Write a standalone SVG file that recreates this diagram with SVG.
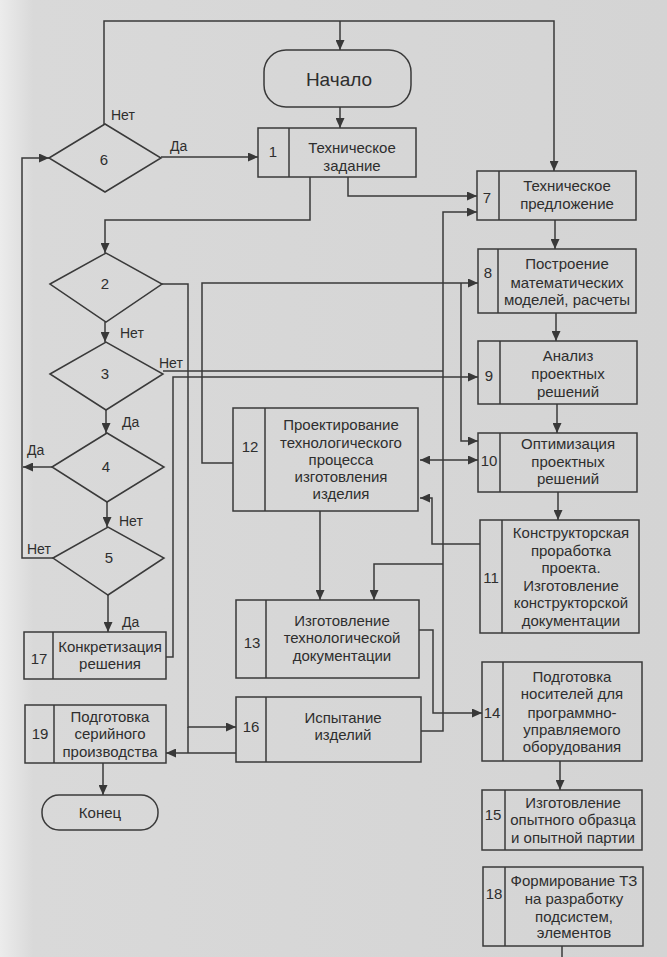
<svg xmlns="http://www.w3.org/2000/svg" width="667" height="957" viewBox="0 0 667 957">
<defs>
<linearGradient id="bg" x1="0" y1="0" x2="1" y2="0">
<stop offset="0" stop-color="#ececec"/>
<stop offset="0.05" stop-color="#d9d9d9"/>
<stop offset="1" stop-color="#d4d4d4"/>
</linearGradient>
<marker id="ah" viewBox="0 0 10 9" refX="10" refY="4.5" markerWidth="10" markerHeight="9" markerUnits="userSpaceOnUse" orient="auto-start-reverse">
<path d="M0,0 L10,4.5 L0,9 z" fill="#383838"/>
</marker>
<style>
.ln{fill:none;stroke:#3a3a3a;stroke-width:1.5}
.ar{marker-end:url(#ah)}
.bx{fill:none;stroke:#3a3a3a;stroke-width:1.5}
.t{font-family:"Liberation Sans",Arial,sans-serif;font-size:15px;fill:#2e2e2e;text-anchor:middle}
.n{font-family:"Liberation Sans",Arial,sans-serif;font-size:15px;fill:#2e2e2e;text-anchor:middle}
.lb{font-family:"Liberation Sans",Arial,sans-serif;font-size:14px;fill:#2e2e2e}
</style>
</defs>
<rect x="0" y="0" width="667" height="957" fill="url(#bg)"/>

<g id="connectors">
<path class="ln ar" d="M104,124 V21 H554 V171"/>
<path class="ln ar" d="M340,21 V50"/>
<path class="ln ar" d="M340,107 V128"/>
<path class="ln ar" d="M161,157 H258"/>
<path class="ln ar" d="M310,177 V220 H105 V253"/>
<path class="ln ar" d="M348,177 V196 H477"/>
<path class="ln ar" d="M555,220 V249"/>
<path class="ln ar" d="M556,313 V341"/>
<path class="ln ar" d="M557,404 V433"/>
<path class="ln ar" d="M558,492 V520"/>
<path class="ln ar" d="M105,322 V342"/>
<path class="ln ar" d="M106,410 V433"/>
<path class="ln ar" d="M107,502 V527"/>
<path class="ln ar" d="M108,595 V632"/>
<path class="ln ar" d="M52,467 H23"/>
<path class="ln ar" d="M53,558 H22 V158 H49"/>
<path class="ln ar" d="M162,284 H188 V727 H236"/>
<path class="ln" d="M188,727 V753"/>
<path class="ln ar" d="M236,753 H166"/>
<path class="ln" d="M163,371 H443"/>
<path class="ln ar" d="M421,731 H443 V212 H477"/>
<path class="ln ar" d="M443,564 H374 V600"/>
<path class="ln ar" d="M166,657 H173 V377 H478"/>
<path class="ln ar" d="M233,463 H202 V283 H478"/>
<path class="ln ar" d="M461,283 V441 H478"/>
<path class="ln ar" d="M420,460 H478" marker-start="url(#ah)"/>
<path class="ln ar" d="M480,544 H432 V498 H420"/>
<path class="ln ar" d="M320,511 V600"/>
<path class="ln ar" d="M419,630 H433 V713 H482"/>
<path class="ln ar" d="M560,761 V790"/>
<path class="ln" d="M562,946 V957"/>
<path class="ln ar" d="M103,763 V795"/>
<text class="lb" x="111" y="120">Нет</text>
<text class="lb" x="170" y="151">Да</text>
<text class="lb" x="120" y="338">Нет</text>
<text class="lb" x="159" y="368">Нет</text>
<text class="lb" x="122" y="427">Да</text>
<text class="lb" x="27" y="455">Да</text>
<text class="lb" x="119" y="526">Нет</text>
<text class="lb" x="27" y="554">Нет</text>
<text class="lb" x="122" y="627">Да</text>
</g>

<g id="start">
<rect class="bx" x="264" y="50" width="147" height="57" rx="22"/>
<text class="t" x="339" y="86" style="font-size:19px">Начало</text>
</g>

<g id="n1">
<rect class="bx" x="258" y="128" width="158" height="49"/>
<line class="bx" x1="289" y1="128" x2="289" y2="177"/>
<text class="n" x="273" y="157">1</text>
<text class="t" x="352" y="153">Техническое</text>
<text class="t" x="352" y="171">задание</text>
</g>

<g id="n6">
<polygon class="bx" points="49,158 105,124 161,158 105,192"/>
<text class="n" x="104" y="165">6</text>
</g>

<g id="n2">
<polygon class="bx" points="50,284 106,253 162,284 106,322"/>
<text class="n" x="105" y="289">2</text>
</g>

<g id="n3">
<polygon class="bx" points="50,374 106,342 163,374 106,410"/>
<text class="n" x="105" y="379">3</text>
</g>

<g id="n4">
<polygon class="bx" points="52,467 107,433 164,467 107,502"/>
<text class="n" x="106" y="472">4</text>
</g>

<g id="n5">
<polygon class="bx" points="53,558 108,527 164,558 108,595"/>
<text class="n" x="109" y="563">5</text>
</g>

<g id="n7">
<rect class="bx" x="477" y="171" width="159" height="49"/>
<line class="bx" x1="499" y1="171" x2="499" y2="220"/>
<text class="n" x="487" y="203">7</text>
<text class="t" x="567" y="191">Техническое</text>
<text class="t" x="567" y="209">предложение</text>
</g>

<g id="n8">
<rect class="bx" x="478" y="249" width="158" height="64"/>
<line class="bx" x1="498" y1="249" x2="498" y2="313"/>
<text class="n" x="488" y="278">8</text>
<text class="t" x="567" y="269">Построение</text>
<text class="t" x="567" y="288">математических</text>
<text class="t" x="567" y="305">моделей, расчеты</text>
</g>

<g id="n9">
<rect class="bx" x="478" y="341" width="159" height="63"/>
<line class="bx" x1="500" y1="341" x2="500" y2="404"/>
<text class="n" x="489" y="381">9</text>
<text class="t" x="568" y="361">Анализ</text>
<text class="t" x="568" y="379">проектных</text>
<text class="t" x="568" y="397">решений</text>
</g>

<g id="n10">
<rect class="bx" x="478" y="433" width="159" height="59"/>
<line class="bx" x1="500" y1="433" x2="500" y2="492"/>
<text class="n" x="489" y="466">10</text>
<text class="t" x="568" y="449">Оптимизация</text>
<text class="t" x="568" y="467">проектных</text>
<text class="t" x="568" y="484">решений</text>
</g>

<g id="n11">
<rect class="bx" x="480" y="520" width="159" height="113"/>
<line class="bx" x1="502" y1="520" x2="502" y2="633"/>
<text class="n" x="491" y="583">11</text>
<text class="t" x="571" y="538">Конструкторская</text>
<text class="t" x="571" y="556">проработка</text>
<text class="t" x="571" y="573">проекта.</text>
<text class="t" x="571" y="591">Изготовление</text>
<text class="t" x="571" y="608">конструкторской</text>
<text class="t" x="571" y="626">документации</text>
</g>

<g id="n12">
<rect class="bx" x="233" y="408" width="185" height="103"/>
<line class="bx" x1="265" y1="408" x2="265" y2="511"/>
<text class="n" x="250" y="452">12</text>
<text class="t" x="341" y="430">Проектирование</text>
<text class="t" x="341" y="448">технологического</text>
<text class="t" x="341" y="465">процесса</text>
<text class="t" x="341" y="482">изготовления</text>
<text class="t" x="341" y="499">изделия</text>
</g>

<g id="n13">
<rect class="bx" x="236" y="600" width="183" height="78"/>
<line class="bx" x1="266" y1="600" x2="266" y2="678"/>
<text class="n" x="252" y="648">13</text>
<text class="t" x="342" y="626">Изготовление</text>
<text class="t" x="342" y="643">технологической</text>
<text class="t" x="342" y="661">документации</text>
</g>

<g id="n14">
<rect class="bx" x="482" y="662" width="160" height="99"/>
<line class="bx" x1="503" y1="662" x2="503" y2="761"/>
<text class="n" x="492" y="718">14</text>
<text class="t" x="572" y="682">Подготовка</text>
<text class="t" x="572" y="699">носителей для</text>
<text class="t" x="572" y="718">программно-</text>
<text class="t" x="572" y="735">управляемого</text>
<text class="t" x="572" y="752">оборудования</text>
</g>

<g id="n15">
<rect class="bx" x="482" y="790" width="160" height="60"/>
<line class="bx" x1="505" y1="790" x2="505" y2="850"/>
<text class="n" x="493" y="820">15</text>
<text class="t" x="573" y="808">Изготовление</text>
<text class="t" x="573" y="825">опытного образца</text>
<text class="t" x="573" y="843">и опытной партии</text>
</g>

<g id="n18">
<rect class="bx" x="483" y="867" width="160" height="79"/>
<line class="bx" x1="505" y1="867" x2="505" y2="946"/>
<text class="n" x="494" y="899">18</text>
<text class="t" x="574" y="886">Формирование ТЗ</text>
<text class="t" x="574" y="904">на разработку</text>
<text class="t" x="574" y="922">подсистем,</text>
<text class="t" x="574" y="938">элементов</text>
</g>

<g id="n16">
<rect class="bx" x="236" y="697" width="185" height="65"/>
<line class="bx" x1="266" y1="697" x2="266" y2="762"/>
<text class="n" x="251" y="732">16</text>
<text class="t" x="343" y="723">Испытание</text>
<text class="t" x="343" y="740">изделий</text>
</g>

<g id="n17">
<rect class="bx" x="24" y="632" width="142" height="47"/>
<line class="bx" x1="53" y1="632" x2="53" y2="679"/>
<text class="n" x="39" y="664">17</text>
<text class="t" x="110" y="652">Конкретизация</text>
<text class="t" x="110" y="669">решения</text>
</g>

<g id="n19">
<rect class="bx" x="25" y="705" width="141" height="58"/>
<line class="bx" x1="54" y1="705" x2="54" y2="763"/>
<text class="n" x="40" y="739">19</text>
<text class="t" x="110" y="722">Подготовка</text>
<text class="t" x="110" y="739">серийного</text>
<text class="t" x="110" y="757">производства</text>
</g>

<g id="end">
<rect class="bx" x="42" y="795" width="116" height="35" rx="17"/>
<text class="t" x="100" y="818">Конец</text>
</g>
</svg>
